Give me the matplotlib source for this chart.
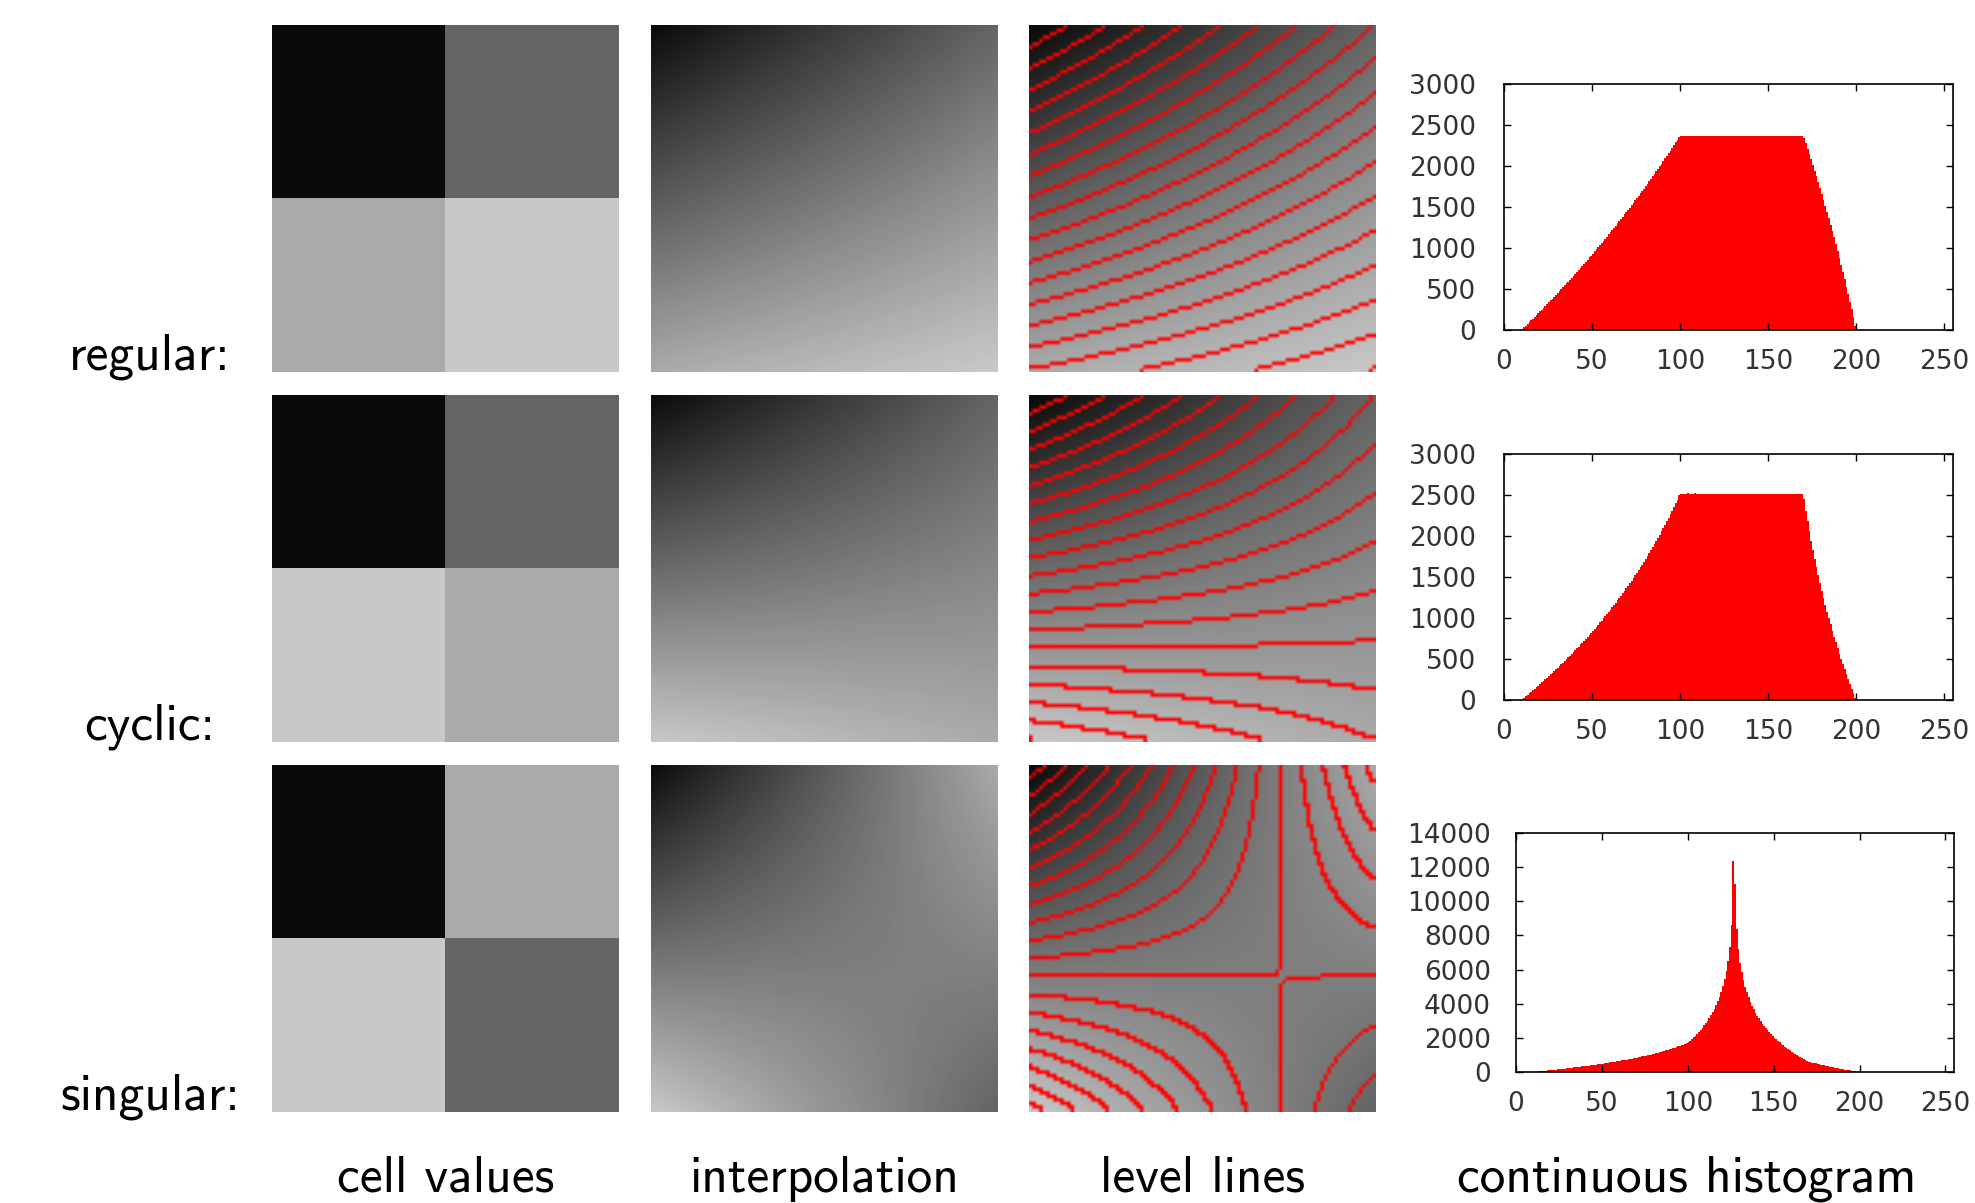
import matplotlib.pyplot as plt
import numpy as np

# 2x2 cell values (top row, bottom row), grey levels 0..255
regular_cells = [[10, 100], [170, 200]]
cyclic_cells = [[10, 100], [200, 170]]
singular_cells = [[10, 170], [200, 100]]
all_cells = [regular_cells, cyclic_cells, singular_cells]

row_labels = ['regular:', 'cyclic:', 'singular:']
col_labels = ['cell values', 'interpolation', 'level lines', 'continuous histogram']

level_step = 10                 # spacing of the level lines
level_offsets = [0, 0, 6.9]     # level lines sit at offset + k * step
n_pixels = 302600               # total mass of each continuous histogram
hist_xticks = [0, 50, 100, 150, 200, 250]
hist_yticks = [list(range(0, 3001, 500)), list(range(0, 3001, 500)), list(range(0, 14001, 2000))]


def bilinear(c, n):
    # bilinear interpolation between the four cell values on an n x n grid
    t = np.linspace(0, 1, n)
    x, y = np.meshgrid(t, t)
    a, b = c[0]
    cc, d = c[1]
    return a * (1 - x) * (1 - y) + b * x * (1 - y) + cc * (1 - x) * y + d * x * y


W, H = 1975, 1203
fig = plt.figure(figsize=(W / 100, H / 100), dpi=100)


def rect(l, t, r, b):
    return [l / W, 1 - b / H, (r - l) / W, (b - t) / H]


col_x = [272, 651, 1029]
row_y = [25, 395, 765]
size = 347
hist_boxes = [(1504, 84, 1953, 330), (1504, 454, 1953, 700), (1516, 833, 1954, 1072)]

for i, c in enumerate(all_cells):
    top = row_y[i]

    # cell values
    ax = fig.add_axes(rect(col_x[0], top, col_x[0] + size, top + size))
    ax.imshow(np.array(c), cmap='gray', vmin=0, vmax=255, interpolation='nearest')
    ax.axis('off')

    # interpolation
    ax = fig.add_axes(rect(col_x[1], top, col_x[1] + size, top + size))
    ax.imshow(bilinear(c, size), cmap='gray', vmin=0, vmax=255, interpolation='bilinear')
    ax.axis('off')

    # level lines, rasterised on a coarse grid like the original
    f = bilinear(c, 100)
    q = np.floor((f - level_offsets[i]) / level_step)
    mask = np.zeros(f.shape, bool)
    mask[:, :-1] |= q[:, :-1] != q[:, 1:]
    mask[:-1, :] |= q[:-1, :] != q[1:, :]
    rgb = np.repeat((f / 255)[..., None], 3, axis=2)
    rgb[mask] = [1, 0, 0]
    ax = fig.add_axes(rect(col_x[2], top, col_x[2] + size, top + size))
    ax.imshow(rgb, interpolation='bilinear')
    ax.axis('off')

    # continuous histogram
    fine = bilinear(c, 1500)
    counts, edges = np.histogram(fine, bins=np.arange(0, 257))
    counts = counts * n_pixels / fine.size
    ax = fig.add_axes(rect(*hist_boxes[i]))
    ax.stairs(counts, edges, fill=True, color='red', linewidth=0)
    ax.set_xlim(0, 255)
    ax.set_ylim(0, hist_yticks[i][-1])
    ax.set_xticks(hist_xticks)
    ax.set_yticks(hist_yticks[i])
    ax.tick_params(direction='in', top=True, right=True, length=5, width=1,
                   labelsize=19, labelcolor='#333333')
    ax.tick_params(axis='y', pad=18 if i == 2 else 20)
    ax.tick_params(axis='x', pad=14)
    for s in ax.spines.values():
        s.set_linewidth(1.2)

    fig.text(150 / W, 1 - (top + size - 2) / H, row_labels[i], ha='center',
             va='baseline', fontsize=37, family='cmss10')

label_x = [446, 824, 1202, 1687]
for x, lab in zip(label_x, col_labels):
    fig.text(x / W, 1 - 1192 / H, lab, ha='center', va='baseline',
             fontsize=37, family='cmss10')

fig.savefig('out.png', dpi=100)
